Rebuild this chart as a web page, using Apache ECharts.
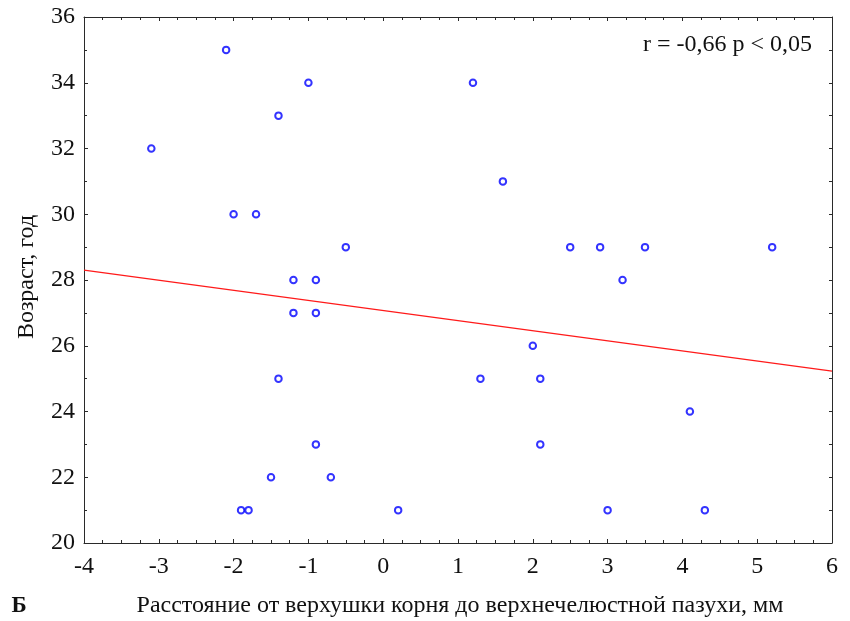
<!DOCTYPE html>
<html>
<head>
<meta charset="utf-8">
<script src="https://cdn.jsdelivr.net/npm/echarts@6/dist/echarts.min.js"></script>
<style>
  html, body { margin: 0; padding: 0; background: #fff; }
  #chart { width: 850px; height: 621px; }
</style>
</head>
<body>
<div id="chart"></div>
<script>
// Distance from root apex to the maxillary sinus (mm) vs. age (years)
const distanceMm = [
  -3.1, -2.1, -2.0, -1.7, -1.4, -1.0, -0.5, -1.2, -0.9,
   1.2,  1.6,  2.5,  2.9,  3.5,  3.2,  5.2,
  -1.2, -0.9, -1.4, -0.9, -1.5, -0.7, -1.9, -1.8,  0.2,
   2.0,  1.3,  2.1,  2.1,  4.1,  3.0,  4.3
];
const ageYears = [
  32, 35, 30, 30, 33, 34, 29, 28, 28,
  34, 31, 29, 29, 29, 28, 29,
  27, 27, 25, 23, 22, 22, 21, 21, 21,
  26, 25, 25, 23, 24, 21, 21
];
// Fitted regression line, end points at the axis limits
const fitX = [-4, 6];
const fitY = [28.3, 25.23];

const xTitle = 'Расстояние от верхушки корня до верхнечелюстной пазухи, мм';
const yTitle = 'Возраст, год';
const statText = 'r = -0,66 p < 0,05';
const panelLetter = 'Б';

const FONT = '"Liberation Serif", "Times New Roman", serif';
const INK = '#111';
const AXIS = '#2a2a2a';

const points = distanceMm.map((x, i) => [x, ageYears[i]]);
const fitLine = fitX.map((x, i) => [x, fitY[i]]);

const chart = echarts.init(document.getElementById('chart'), null, { renderer: 'canvas' });

const axisLine = { show: true, onZero: false, lineStyle: { color: AXIS, width: 1 } };

chart.setOption({
  animation: false,
  backgroundColor: '#fff',
  grid: { left: 84, top: 17, right: 18, bottom: 78, containLabel: false },
  xAxis: [
    {
      type: 'value', min: -4, max: 6, interval: 1, position: 'bottom',
      axisLine: axisLine,
      axisTick: { show: true, inside: true, length: 4, lineStyle: { color: AXIS } },
      minorTick: { show: true, splitNumber: 4, length: 3, lineStyle: { color: AXIS } },
      axisLabel: { color: INK, fontFamily: FONT, fontSize: 24, margin: 12 },
      splitLine: { show: false }
    },
    {
      type: 'value', min: -4, max: 6, interval: 1, position: 'top',
      axisLine: axisLine,
      axisTick: { show: true, inside: true, length: 4, lineStyle: { color: AXIS } },
      minorTick: { show: true, splitNumber: 4, length: 3, lineStyle: { color: AXIS } },
      axisLabel: { show: false },
      splitLine: { show: false }
    }
  ],
  yAxis: [
    {
      type: 'value', min: 20, max: 36, interval: 2, position: 'left',
      axisLine: axisLine,
      axisTick: { show: true, inside: true, length: 4, lineStyle: { color: AXIS } },
      minorTick: { show: true, splitNumber: 2, length: 3, lineStyle: { color: AXIS } },
      axisLabel: { color: INK, fontFamily: FONT, fontSize: 24, margin: 9 },
      splitLine: { show: false }
    },
    {
      type: 'value', min: 20, max: 36, interval: 1, position: 'right',
      axisLine: axisLine,
      axisTick: { show: true, inside: true, length: 3, lineStyle: { color: AXIS } },
      axisLabel: { show: false },
      splitLine: { show: false }
    }
  ],
  series: [
    {
      type: 'line',
      data: fitLine,
      showSymbol: false,
      symbol: 'none',
      lineStyle: { color: '#ff1a1a', width: 1.3 },
      z: 2
    },
    {
      type: 'scatter',
      data: points,
      symbol: 'emptyCircle',
      symbolSize: 6.5,
      itemStyle: { color: '#0000ff', borderColor: '#0000ff', borderWidth: 2 },
      z: 3
    }
  ],
  graphic: [
    {
      type: 'text', x: 812, y: 45,
      style: { text: statText, fill: INK, font: '24px ' + FONT, align: 'right', verticalAlign: 'middle' }
    },
    {
      type: 'text', x: 460, y: 606,
      style: { text: xTitle, fill: INK, font: '24px ' + FONT, align: 'center', verticalAlign: 'middle' }
    },
    {
      type: 'text', x: 19, y: 606,
      style: { text: panelLetter, fill: INK, font: 'bold 23px ' + FONT, align: 'center', verticalAlign: 'middle' }
    },
    {
      type: 'text', x: 27, y: 277, rotation: Math.PI / 2,
      style: { text: yTitle, fill: INK, font: '24px ' + FONT, align: 'center', verticalAlign: 'middle' }
    }
  ]
});
</script>
</body>
</html>
